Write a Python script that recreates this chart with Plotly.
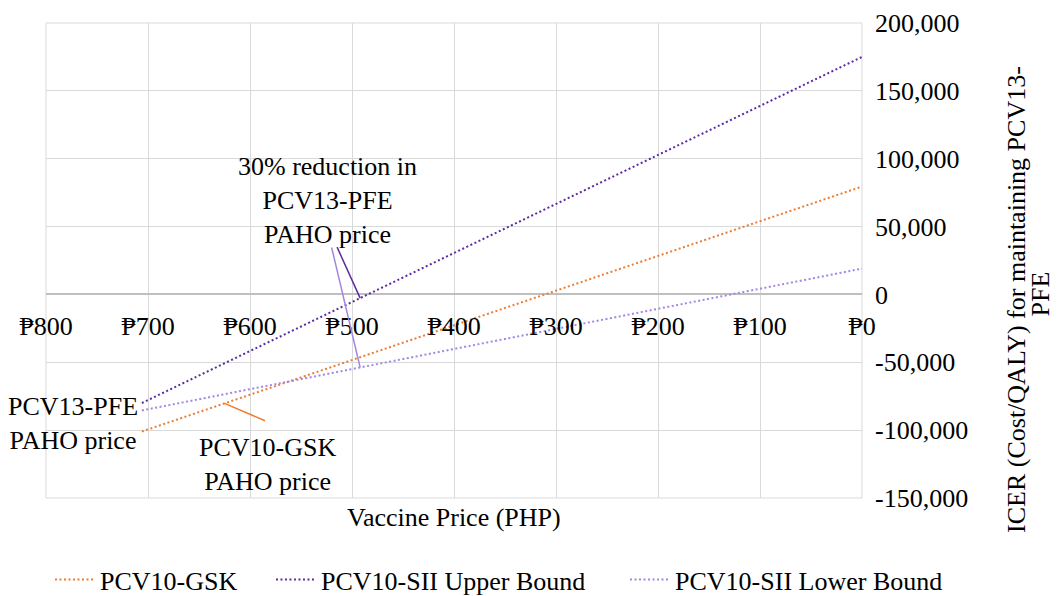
import numpy as np
import plotly.graph_objects as go

# ---- data ----
price = [706, 0]                      # vaccine price (PHP), PCV13-PFE PAHO price down to 0
pcv10_gsk = [-101000, 79500]          # ICER
pcv10_sii_upper = [-80000, 175000]
pcv10_sii_lower = [-85500, 19000]

series_names = ["PCV10-GSK", "PCV10-SII Upper Bound", "PCV10-SII Lower Bound"]
series_colors = ["#ED7D31", "#5B2C9F", "#A386E3"]

x_tickvals = [800, 700, 600, 500, 400, 300, 200, 100, 0]
x_ticktext = ["₱800", "₱700", "₱600", "₱500", "₱400", "₱300", "₱200", "₱100", "₱0"]
y_tickvals = [200000, 150000, 100000, 50000, 0, -50000, -100000, -150000]
y_ticktext = ["200,000", "150,000", "100,000", "50,000", "0", "-50,000", "-100,000", "-150,000"]

pfe_paho_price = 706
gsk_paho_price = 625
pfe_30pct_price = 492

FONT = "Liberation Serif, Times New Roman, DejaVu Serif, serif"
FS = 26

fig = go.Figure()
legend_ids = ["legend", "legend2", "legend3"]
for name, ys, col, lg in zip(series_names, [pcv10_gsk, pcv10_sii_upper, pcv10_sii_lower],
                             series_colors, legend_ids):
    fig.add_trace(go.Scatter(x=price, y=ys, mode="lines", name=name, legend=lg,
                             line=dict(color=col, width=2, dash="2px,2.5px")))

def interp(xv, ys):
    return float(np.interp(xv, price[::-1], ys[::-1]))

y_range = [-150000, 200000]
zero_pos = (0 - y_range[0]) / (y_range[1] - y_range[0])

legend_common = dict(orientation="h", xanchor="left", y=-0.172, yanchor="middle",
                     font=dict(family=FONT, size=FS, color="#000000"),
                     itemwidth=40, bgcolor="rgba(0,0,0,0)", borderwidth=0)

fig.update_layout(
    width=1052, height=588,
    margin=dict(l=38, r=198, t=15, b=98, autoexpand=False),
    paper_bgcolor="white", plot_bgcolor="white",
    font=dict(family=FONT, size=FS, color="#000000"),
    showlegend=True,
    legend=dict(x=0.0049, **legend_common),
    legend2=dict(x=0.2757, **legend_common),
    legend3=dict(x=0.7096, **legend_common),
    xaxis=dict(range=[800, 0], tickvals=x_tickvals, ticktext=x_ticktext,
               anchor="free", position=zero_pos, showline=False, ticks="",
               ticklabelstandoff=14,
               showgrid=True, gridcolor="#D9D9D9", gridwidth=1, zeroline=False,
               tickfont=dict(family=FONT, size=FS, color="#000000")),
    yaxis=dict(range=y_range, tickvals=y_tickvals, ticktext=y_ticktext, side="right",
               showgrid=True, gridcolor="#D9D9D9", gridwidth=1,
               zeroline=True, zerolinecolor="#BFBFBF", zerolinewidth=1.5,
               showline=False, ticks="", ticklabelstandoff=12,
               tickfont=dict(family=FONT, size=FS, color="#000000")),
    shapes=[dict(type="rect", xref="paper", yref="paper", x0=0, y0=0, x1=1, y1=1,
                 line=dict(color="#D9D9D9", width=1), layer="below")],
)

ann = []
# axis titles
ann.append(dict(text="Vaccine Price (PHP)", xref="paper", yref="paper", x=0.5, y=-0.04,
                xanchor="center", yanchor="middle", showarrow=False))
ann.append(dict(text="ICER (Cost/QALY) for maintaining PCV13-", xref="paper", yref="paper",
                x=1.190, y=0.417, xanchor="center", yanchor="middle", textangle=-90, showarrow=False))
ann.append(dict(text="PFE", xref="paper", yref="paper",
                x=1.219, y=0.43, xanchor="center", yanchor="middle", textangle=-90, showarrow=False))

# callouts
ann.append(dict(text="30% reduction in<br>PCV13-PFE<br>PAHO price", x=524, y=69500,
                xanchor="center", yanchor="middle", showarrow=False, align="center"))
ann.append(dict(text=" ", x=pfe_30pct_price, y=interp(pfe_30pct_price, pcv10_sii_upper),
                showarrow=True, arrowhead=0, arrowwidth=1.5, arrowcolor=series_colors[1],
                ax=-24, ay=-53, font=dict(size=1)))
ann.append(dict(text=" ", x=pfe_30pct_price, y=interp(pfe_30pct_price, pcv10_sii_lower),
                showarrow=True, arrowhead=0, arrowwidth=1.5, arrowcolor=series_colors[2],
                ax=-29, ay=-122, font=dict(size=1)))
ann.append(dict(text="PCV10-GSK<br>PAHO price", x=583, y=-125000,
                xanchor="center", yanchor="middle", showarrow=False, align="center"))
ann.append(dict(text=" ", x=gsk_paho_price, y=interp(gsk_paho_price, pcv10_gsk),
                showarrow=True, arrowhead=0, arrowwidth=1.5, arrowcolor=series_colors[0],
                ax=42, ay=18, font=dict(size=1)))
ann.append(dict(text="PCV13-PFE<br>PAHO price", x=pfe_paho_price, y=-94750,
                xanchor="right", yanchor="middle", xshift=-2, showarrow=False, align="center"))
fig.update_layout(annotations=ann)

fig.write_html("out.html")
